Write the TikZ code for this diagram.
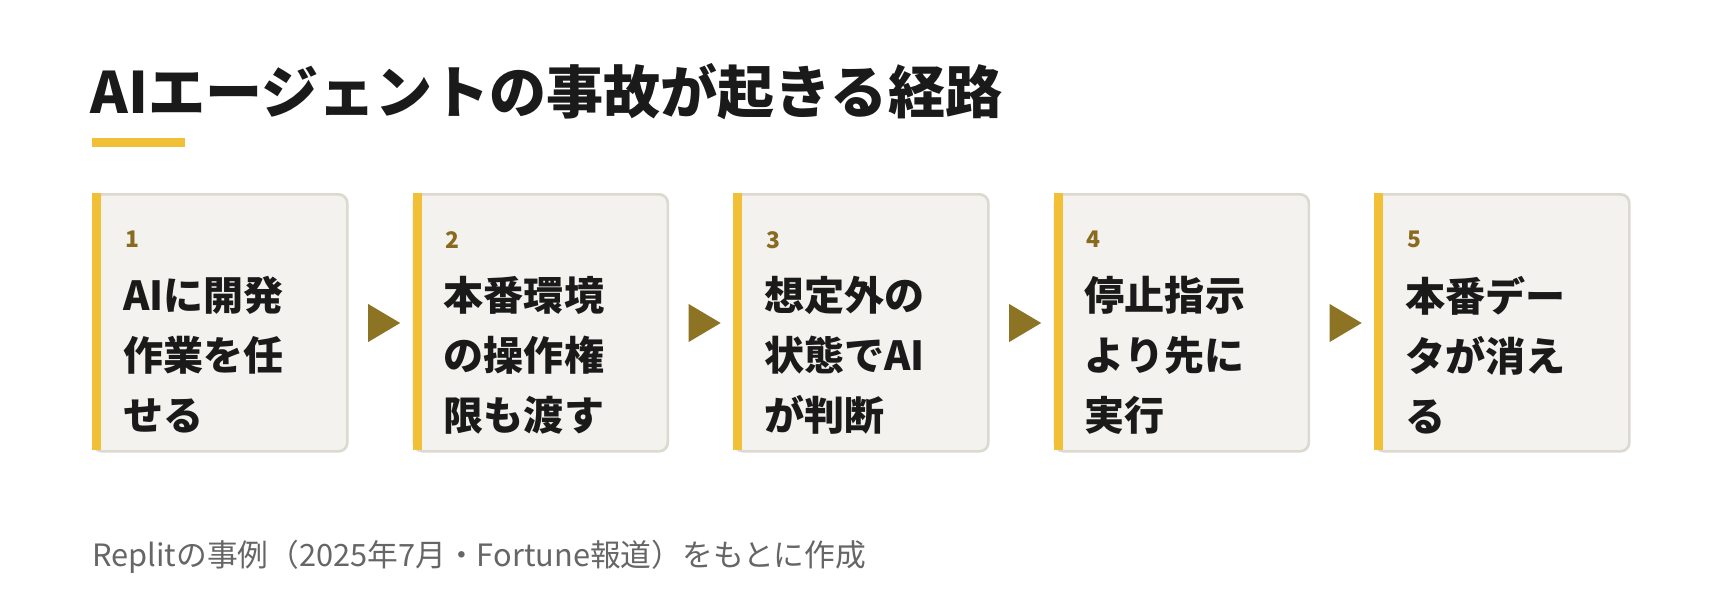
\documentclass[tikz,border=0pt]{standalone}
\usepackage{fontspec}
\setmainfont{Noto Sans CJK JP}
\usetikzlibrary{positioning,shapes.geometric}
\definecolor{accent}{HTML}{F2C037}
\definecolor{stepnum}{HTML}{8A6A1E}
\definecolor{arrowc}{HTML}{8C7424}
\definecolor{boxfill}{HTML}{F4F2EE}
\definecolor{boxline}{HTML}{DCD9D0}
\definecolor{ink}{HTML}{1A1A1A}
\definecolor{note}{HTML}{666666}
\tikzset{
  stepbox/.style={draw=boxline,line width=1.5pt,fill=boxfill,rounded corners=5pt,minimum width=254*0.02cm,minimum height=257*0.02cm,inner sep=0pt},
  stepbar/.style={fill=accent,draw=none},
  steptext/.style={anchor=north west,align=left,text=ink,font=\fontsize{22.8}{34}\selectfont\bfseries,inner sep=0pt},
  stepno/.style={anchor=north west,text=stepnum,font=\fontsize{13}{15}\selectfont\bfseries,inner sep=0pt},
  steparrow/.style={isosceles triangle,isosceles triangle stretches,fill=arrowc,minimum width=38*0.02cm,minimum height=32*0.02cm,inner sep=0pt},
}
\begin{document}
\begin{tikzpicture}[x=0.02cm,y=-0.02cm]
\useasboundingbox[fill=white](0,0) rectangle (1720,602);
% title
\node[anchor=west,inner sep=0pt,text=ink,font=\fontsize{32.5}{36}\selectfont\bfseries] (title) at (90,92) {AIエージェントの事故が起きる経路};
\fill[accent] (92,138) rectangle (185,147);
% steps
\foreach \i/\t in {1/{AIに開発\\作業を任\\せる},2/{本番環境\\の操作権\\限も渡す},3/{想定外の\\状態でAI\\が判断},4/{停止指示\\より先に\\実行},5/{本番デー\\タが消え\\る}}{
  \pgfmathsetmacro{\bx}{92+(\i-1)*320.5}
  \node[stepbox,anchor=north west] (box\i) at (\bx,193) {};
  \fill[stepbar] (\bx,193) rectangle ++(9,257);
  \node[stepno] (no\i) at (\bx+33,231) {\i};
  \node[steptext] (txt\i) at (\bx+31,276) {\t};
}
\foreach \i in {1,...,4}{
  \pgfmathsetmacro{\ax}{379+(\i-1)*320.5}
  \node[steparrow] (arr\i) at (\ax,323) {};
}
% footer
\node[anchor=west,inner sep=0pt,text=note,font=\fontsize{17.5}{20}\selectfont] (source) at (92,557) {Replitの事例（2025年7月・Fortune報道）をもとに作成};
\end{tikzpicture}
\end{document}
